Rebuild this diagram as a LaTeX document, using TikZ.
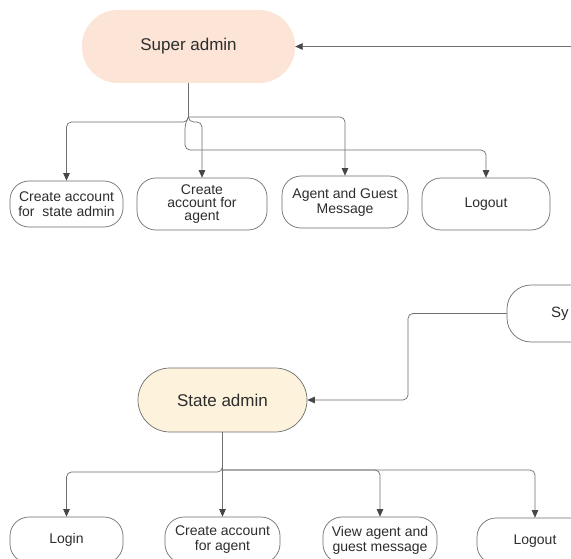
\documentclass[tikz,border=0pt]{standalone}
\usepackage{fontspec}
\setmainfont{Liberation Sans}
\usetikzlibrary{arrows.meta}
\definecolor{peach}{RGB}{252,229,214}
\definecolor{cream}{RGB}{253,242,220}
\definecolor{edge}{RGB}{110,110,110}
\definecolor{tipc}{RGB}{70,70,75}
\definecolor{txt}{RGB}{45,45,45}
\tikzset{
  box/.style={draw=edge, line width=0.7pt, fill=white, rounded corners=19pt, align=center,
    text=txt, font=\fontsize{14}{15}\selectfont, inner sep=2pt},
  mainbox/.style={align=center, text=txt, font=\fontsize{17}{19}\selectfont, inner sep=2pt},
  conn/.style={draw=edge, line width=0.7pt, rounded corners=5pt,
    -{Triangle[length=7.5pt,width=6.5pt,color=tipc]}},
  wire/.style={draw=edge, line width=0.7pt, rounded corners=5pt}
}
\begin{document}
\begin{tikzpicture}[x=1pt,y=-1pt]
\useasboundingbox (0,0) rectangle (571,559);
\clip (0,0) rectangle (571,559);
\fill[white] (0,0) rectangle (571,559);

% top section
\node[mainbox, fill=peach, rounded corners=36pt, minimum width=213pt, minimum height=73pt] (sa) at (188.5,46.5) {Super admin};
\node[box, minimum width=113pt, minimum height=46pt] (c1) at (66.5,204) {Create account\\for \ state admin};
\node[box, minimum width=130pt, minimum height=52pt, font=\fontsize{14}{13}\selectfont] (c2) at (202,204) {Create\\account for\\agent};
\node[box, minimum width=126pt, minimum height=52pt] (c3) at (345,202) {Agent and Guest\\Message};
\node[box, minimum width=128pt, minimum height=52pt] (c4) at (486,204) {Logout};

\coordinate (r1) at (575,46.5);
\draw[conn] (r1) -- (sa.east);

\coordinate (j1) at (188.5,117);
\draw[wire] (sa.south) -- (j1);
\draw[conn] (j1) -- (345,117) -- (c3.north);
\draw[conn] (j1) -- (188.5,122) -- (66.5,122) -- (c1.north);
\draw[conn] (j1) -- (188.5,122) -- (202,122) -- (c2.north);
\draw[conn] (j1) -- (185,124) -- (185,150) -- (486,150) -- (c4.north);

% bottom section
\node[box, minimum width=132pt, minimum height=57pt, rounded corners=24pt,
  text width=44pt, align=left, font=\fontsize{15}{17}\selectfont] (sy) at (573,313.5) {Sy};
\node[mainbox, draw=edge, line width=0.7pt, fill=cream, rounded corners=32pt, minimum width=169pt, minimum height=64pt] (sa2) at (222.5,400) {State admin};
\draw[conn] (sy.west) -- (408,313.5) -- (408,400) -- (sa2.east);

\node[box, minimum width=113pt, minimum height=46pt] (b1) at (66.5,540) {Login};
\node[box, minimum width=115pt, minimum height=46pt] (b2) at (222.5,540) {Create account\\for agent};
\node[box, minimum width=114pt, minimum height=46pt] (b3) at (380,540) {View agent and\\guest message};
\node[box, minimum width=116pt, minimum height=46pt] (b4) at (535,541) {Logout};

\coordinate (j2) at (222.5,470);
\draw[conn] (sa2.south) -- (b2.north);
\draw[conn] (j2) -- (222.5,472) -- (66.5,472) -- (b1.north);
\draw[conn] (j2) -- (380,470) -- (b3.north);
\draw[conn] (j2) -- (535,470) -- (b4.north);
\end{tikzpicture}
\end{document}
